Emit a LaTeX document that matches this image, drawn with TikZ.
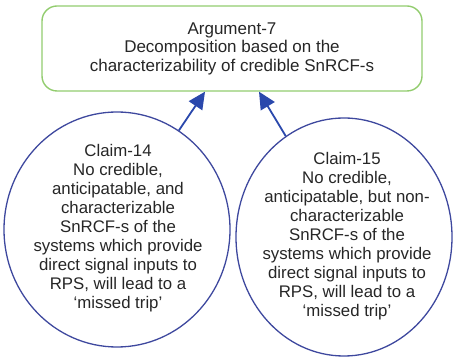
\documentclass[tikz,border=0pt]{standalone}
\usepackage{fontspec}
\setmainfont{Liberation Sans}
\usetikzlibrary{shapes.geometric,arrows.meta}
\definecolor{boxgreen}{RGB}{146,204,110}
\definecolor{ellblue}{RGB}{62,72,158}
\definecolor{arrblue}{RGB}{42,72,172}
\definecolor{txtgray}{RGB}{38,38,38}
\tikzset{
  argbox/.style={draw=boxgreen, line width=1.4pt, rounded corners=15pt,
    minimum width=380pt, minimum height=85pt, inner sep=0pt, align=center,
    text=txtgray, font=\fontsize{17}{18.5}\selectfont},
  claim/.style={draw=ellblue, line width=1.3pt, ellipse, inner sep=0pt},
  claimtext/.style={align=center, inner sep=0pt, text=txtgray,
    font=\fontsize{16.8}{19}\selectfont},
  support/.style={draw=arrblue, line width=1.8pt,
    -{Triangle[length=17pt,width=16pt]}, fill=arrblue}
}
\begin{document}
\begin{tikzpicture}[x=1pt,y=1pt]
\useasboundingbox (0,0) rectangle (454,358);
\node[argbox] (arg) at (232,309.5) {Argument-7\\Decomposition based on the\\characterizability of credible SnRCF-s};
\node[claim, minimum width=226pt, minimum height=235pt] (c14) at (117,128.5) {};
\node[claimtext] (t14) at (118,130)
  {Claim-14\\No credible,\\anticipatable, and\\characterizable\\SnRCF-s of the\\systems which provide\\direct signal inputs to\\RPS, will lead to a\\‘missed trip’};
\node[claim, minimum width=216pt, minimum height=238pt] (c15) at (344,121) {};
\node[claimtext] (t15) at (347,122)
  {Claim-15\\No credible,\\anticipatable, but non-\\characterizable\\SnRCF-s of the\\systems which provide\\direct signal inputs to\\RPS, will lead to a\\‘missed trip’};
\draw[support] (c14.58) -- ([xshift=-27pt]arg.south);
\draw[support] (c15.120) -- ([xshift=27pt]arg.south);
\end{tikzpicture}
\end{document}
